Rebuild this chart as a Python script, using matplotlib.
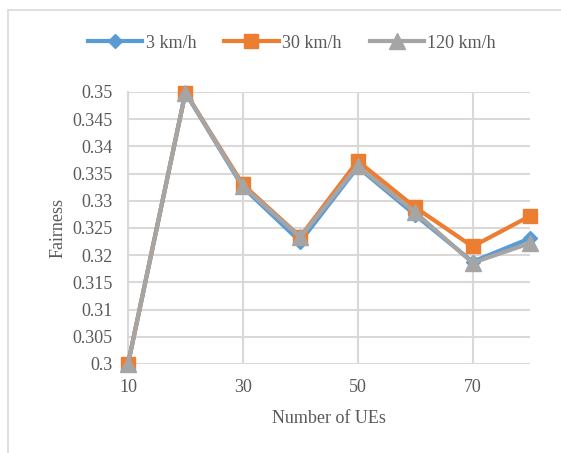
import matplotlib.pyplot as plt
from matplotlib.patches import Rectangle

plt.rcParams['font.family'] = ['Liberation Serif', 'DejaVu Serif']

ues = [10, 20, 30, 40, 50, 60, 70, 80]
fair_3 = [0.3, 0.3499, 0.3325, 0.3225, 0.3362, 0.3274, 0.3188, 0.3231]
fair_30 = [0.3, 0.3499, 0.3330, 0.3234, 0.3373, 0.3288, 0.3216, 0.3272]
fair_120 = [0.3, 0.3499, 0.3327, 0.3233, 0.3364, 0.3279, 0.3186, 0.3222]
labels = ['3 km/h', '30 km/h', '120 km/h']
x_ticks = [10, 30, 50, 70]
y_ticks = [0.3, 0.305, 0.31, 0.315, 0.32, 0.325, 0.33, 0.335, 0.34, 0.345, 0.35]
y_labels = ['0.3', '0.305', '0.31', '0.315', '0.32', '0.325', '0.33', '0.335',
            '0.34', '0.345', '0.35']

txt = '#595959'
grid = '#D9D9D9'
fs = 13

fig = plt.figure(figsize=(5.61, 4.53), dpi=100)
fig.patches.append(Rectangle((8 / 561, -0.1), 1.0, 1.1 - 10 / 453,
                             transform=fig.transFigure, fill=False,
                             edgecolor=grid, linewidth=1.2))
ax = fig.add_axes([128 / 561, 1 - 364 / 453, (530 - 128) / 561, (364 - 92) / 453])

ax.plot(ues, fair_3, color='#5B9BD5', lw=3, marker='D', ms=7, label=labels[0],
        clip_on=False, zorder=3)
ax.plot(ues, fair_30, color='#ED7D31', lw=3, marker='s', ms=10, label=labels[1],
        clip_on=False, zorder=4)
ax.plot(ues, fair_120, color='#A5A5A5', lw=3, marker='^', ms=11, label=labels[2],
        clip_on=False, zorder=5)

ax.set_xlim(10, 80)
ax.set_ylim(0.3, 0.35)
ax.set_xticks(x_ticks)
ax.set_yticks(y_ticks)
ax.set_yticklabels(y_labels)
ax.grid(True, color=grid, lw=1.5)
ax.set_axisbelow(True)
for s in ['top', 'right', 'bottom']:
    ax.spines[s].set_visible(False)
ax.spines['left'].set_color(grid)
ax.spines['left'].set_linewidth(1.5)
ax.tick_params(length=0, labelsize=fs, labelcolor=txt)
ax.tick_params(axis='y', pad=11)
ax.tick_params(axis='x', pad=11)

ax.set_xlabel('Number of UEs', fontsize=fs, color=txt, labelpad=10)
ax.set_ylabel('Fairness', fontsize=fs, color=txt, labelpad=4)

fig.legend(loc='center', bbox_to_anchor=(292 / 561, 1 - 43 / 453), ncol=3,
           frameon=False, fontsize=fs, labelcolor=txt, handlelength=3.0,
           handletextpad=0.2, columnspacing=1.55)

fig.savefig('out.png', dpi=100)
